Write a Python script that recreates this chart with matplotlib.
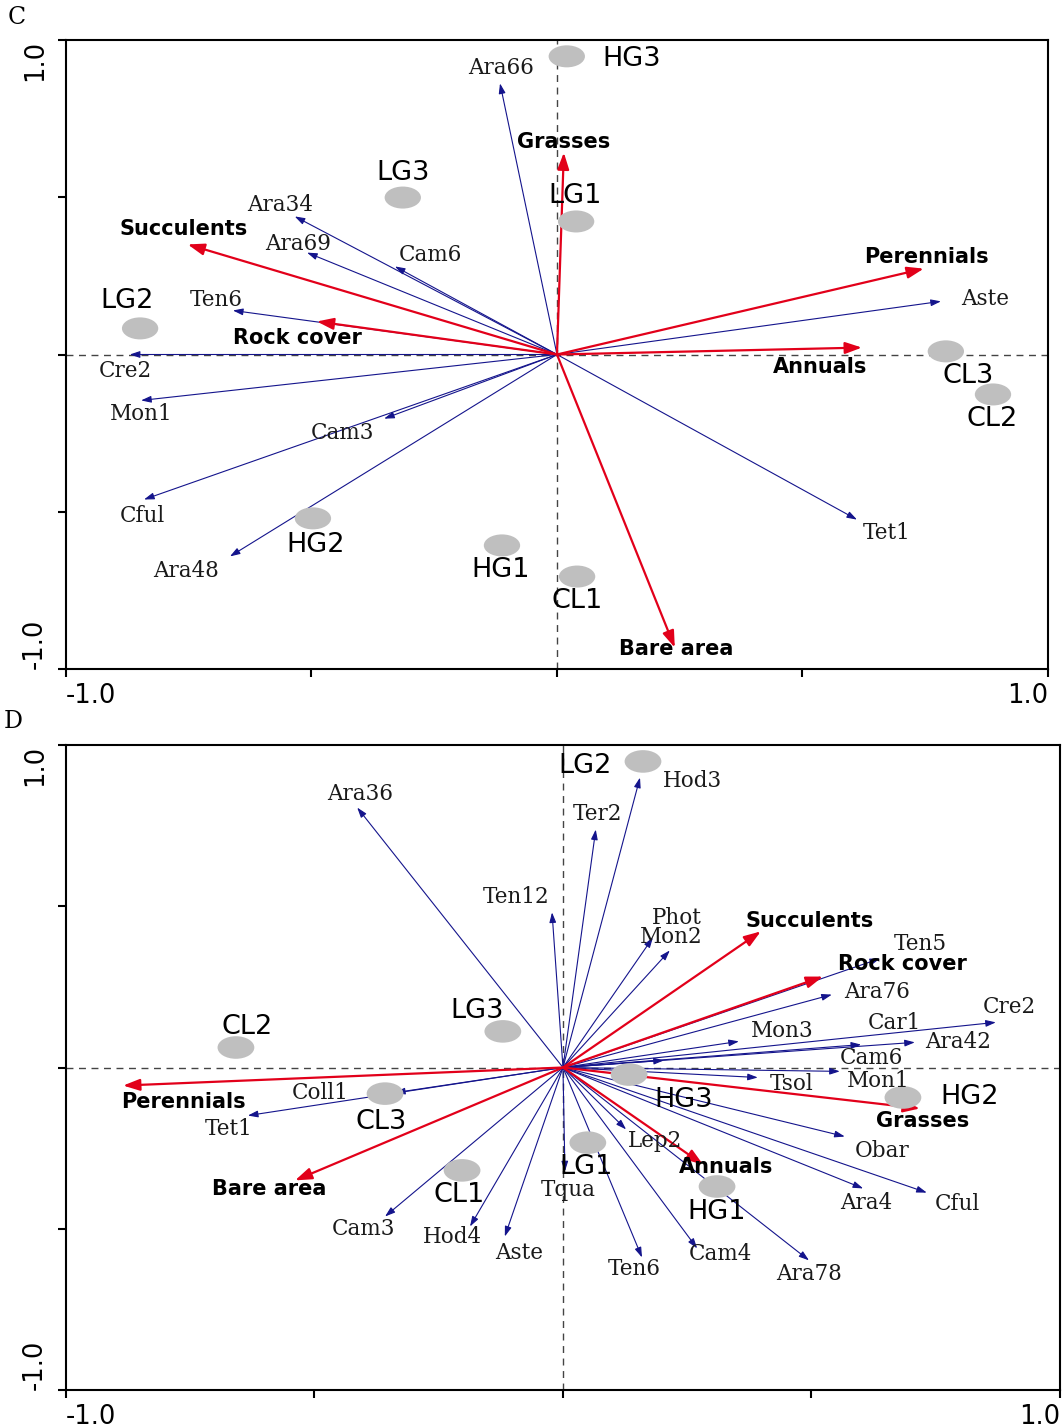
import matplotlib
matplotlib.use('Agg')
import matplotlib.pyplot as plt
from matplotlib.patches import Ellipse

# ---- panel C ----
c_species = ['Ara66', 'Ara34', 'Ara69', 'Cam6', 'Ten6', 'Cre2', 'Mon1',
             'Cam3', 'Cful', 'Ara48', 'Aste', 'Tet1']
c_species_x = [-0.116, -0.534, -0.509, -0.330, -0.660, -0.870, -0.847,
               -0.352, -0.841, -0.666, 0.782, 0.611]
c_species_y = [0.862, 0.439, 0.324, 0.280, 0.140, 0.0, -0.146,
               -0.204, -0.461, -0.642, 0.169, -0.525]

c_env = ['Grasses', 'Succulents', 'Rock cover', 'Perennials', 'Annuals', 'Bare area']
c_env_x = [0.014, -0.752, -0.489, 0.747, 0.621, 0.240]
c_env_y = [0.642, 0.350, 0.105, 0.273, 0.022, -0.932]

c_sites = ['HG3', 'LG3', 'LG1', 'LG2', 'CL3', 'CL2', 'HG2', 'HG1', 'CL1']
c_sites_x = [0.020, -0.314, 0.039, -0.849, 0.792, 0.888, -0.497, -0.112, 0.041]
c_sites_y = [0.948, 0.499, 0.423, 0.083, 0.010, -0.127, -0.521, -0.607, -0.706]

# ---- panel D ----
d_species = ['Ara36', 'Ten12', 'Ter2', 'Hod3', 'Phot', 'Mon2', 'Ten5', 'Ara76',
             'Cre2', 'Car1', 'Ara42', 'Mon3', 'Cam6', 'Tsol', 'Mon1', 'Obar',
             'Ara4', 'Cful', 'Ara78', 'Cam4', 'Ten6', 'Lep2', 'Tqua', 'Aste',
             'Hod4', 'Cam3', 'Tet1', 'Coll1']
d_species_x = [-0.414, -0.022, 0.066, 0.155, 0.181, 0.215, 0.638, 0.541,
               0.871, 0.600, 0.708, 0.354, 0.203, 0.392, 0.557, 0.567,
               0.604, 0.732, 0.495, 0.270, 0.159, 0.127, 0.004, -0.117,
               -0.187, -0.358, -0.634, -0.338]
d_species_y = [0.806, 0.481, 0.738, 0.899, 0.403, 0.363, 0.338, 0.226,
               0.140, 0.071, 0.078, 0.081, 0.022, -0.031, -0.012, -0.214,
               -0.375, -0.388, -0.598, -0.561, -0.589, -0.192, -0.322, -0.524,
               -0.493, -0.462, -0.149, -0.078]

d_env = ['Perennials', 'Bare area', 'Annuals', 'Grasses', 'Succulents', 'Rock cover']
d_env_x = [-0.885, -0.539, 0.282, 0.718, 0.398, 0.523]
d_env_y = [-0.056, -0.350, -0.301, -0.127, 0.422, 0.282]

d_sites = ['LG2', 'CL2', 'LG3', 'CL3', 'HG3', 'HG2', 'LG1', 'CL1', 'HG1']
d_sites_x = [0.161, -0.658, -0.121, -0.358, 0.133, 0.684, 0.050, -0.203, 0.310]
d_sites_y = [0.949, 0.062, 0.112, -0.081, -0.022, -0.093, -0.233, -0.319, -0.369]

# label offsets (pixels) from arrow tip / site centre
c_species_off = [(1, 15), (-15, 11), (-9, 9), (36, 11), (-17, 10), (-4, -16), (0, -14),
                 (-42, -14), (-2, -17), (-44, -15), (44, 2), (30, -13)]
c_env_off = [(0, 11), (-4, 15), (-19, -17), (3, 12), (-42, -19), (1, -1)]
c_sites_off = [(65, -3), (0, 25), (-1, 25), (-13, 27), (22, -25), (-1, -25),
               (3, -27), (-1, -25), (0, -24)]

d_species_off = [(3, 14), (-36, 15), (2, 15), (52, -3), (24, 20), (1, 13), (40, 14), (45, 3),
                 (14, 15), (33, 22), (43, 0), (43, 10), (208, 2), (34, -7), (38, -10), (37, -14),
                 (3, -15), (31, -11), (0, -14), (23, -6), (-8, -12), (29, -12), (3, -19), (14, -17),
                 (-18, -10), (-22, -12), (-19, -13), (-75, 0)]
d_env_off = [(60, -16), (-26, -9), (23, -2), (3, -13), (49, 10), (80, 13)]
d_sites_off = [(-58, -5), (11, 21), (-26, 20), (-4, -28), (55, -25), (67, 0),
               (-2, -24), (-3, -25), (0, -25)]

BLUE = '#14148c'
RED = '#e2001a'
GREY = '#bfbfbf'


def draw_panel(ax, sp, sx, sy, soff, en, ex, ey, eoff, st, tx, ty, toff):
    ax.set_xlim(-1, 1)
    ax.set_ylim(-1, 1)
    ax.axhline(0, color='#444444', lw=1, ls=(0, (5, 4)), zorder=1)
    ax.axvline(0, color='#444444', lw=1, ls=(0, (5, 4)), zorder=1)

    for name, x, y, off in zip(sp, sx, sy, soff):
        ax.annotate('', xy=(x, y), xytext=(0, 0),
                    arrowprops=dict(arrowstyle='-|>,head_length=0.6,head_width=0.2',
                                    color=BLUE, lw=0.8, shrinkA=0, shrinkB=0,
                                    mutation_scale=10), zorder=2)
        ax.annotate(name, xy=(x, y), xytext=off, textcoords='offset pixels',
                    ha='center', va='center', fontsize=15.5, family='DejaVu Serif',
                    color='#1a1a1a', zorder=6)

    for name, x, y, off in zip(en, ex, ey, eoff):
        ax.annotate('', xy=(x, y), xytext=(0, 0),
                    arrowprops=dict(arrowstyle='-|>,head_length=1.0,head_width=0.35',
                                    color=RED, lw=1.6, shrinkA=0, shrinkB=0,
                                    mutation_scale=10), zorder=3)
        ax.annotate(name, xy=(x, y), xytext=off, textcoords='offset pixels',
                    ha='center', va='center', fontsize=15, fontweight='bold',
                    family='DejaVu Sans', color='black', zorder=6)

    for name, x, y, off in zip(st, tx, ty, toff):
        ax.add_patch(Ellipse((x, y), 0.074, 0.07, color=GREY, zorder=4, lw=0))
        ax.annotate(name, xy=(x, y), xytext=off, textcoords='offset pixels',
                    ha='center', va='center', fontsize=19.5, family='DejaVu Sans',
                    color='black', zorder=6)

    ticks = [-1, -0.5, 0, 0.5, 1]
    ax.set_xticks(ticks)
    ax.set_yticks(ticks)
    ax.set_xticklabels(['-1.0', '', '', '', '1.0'], fontsize=18.5)
    ax.set_yticklabels(['-1.0', '', '', '', '1.0'], fontsize=18.5, rotation=90)
    ax.tick_params(direction='out', length=6, width=1.5)
    ax.tick_params(axis='x', pad=4)
    ax.tick_params(axis='y', pad=7)
    xl = ax.get_xticklabels()
    xl[0].set_ha('left')
    xl[-1].set_ha('right')
    yl = ax.get_yticklabels()
    yl[0].set_va('bottom')
    yl[-1].set_va('top')
    for s in ax.spines.values():
        s.set_linewidth(1.5)


fig = plt.figure(figsize=(10.62, 14.28), dpi=100)
axc = fig.add_axes([0.0621, 0.5315, 0.9247, 0.4405])
axd = fig.add_axes([0.0621, 0.0266, 0.936, 0.4517])

draw_panel(axc, c_species, c_species_x, c_species_y, c_species_off,
           c_env, c_env_x, c_env_y, c_env_off,
           c_sites, c_sites_x, c_sites_y, c_sites_off)
draw_panel(axd, d_species, d_species_x, d_species_y, d_species_off,
           d_env, d_env_x, d_env_y, d_env_off,
           d_sites, d_sites_x, d_sites_y, d_sites_off)

fig.text(17 / 1062, 1 - 18 / 1428, 'C', fontsize=17, family='DejaVu Serif',
         ha='center', va='center')
fig.text(13 / 1062, 1 - 722 / 1428, 'D', fontsize=17, family='DejaVu Serif',
         ha='center', va='center')

fig.savefig('out.png', dpi=100)
